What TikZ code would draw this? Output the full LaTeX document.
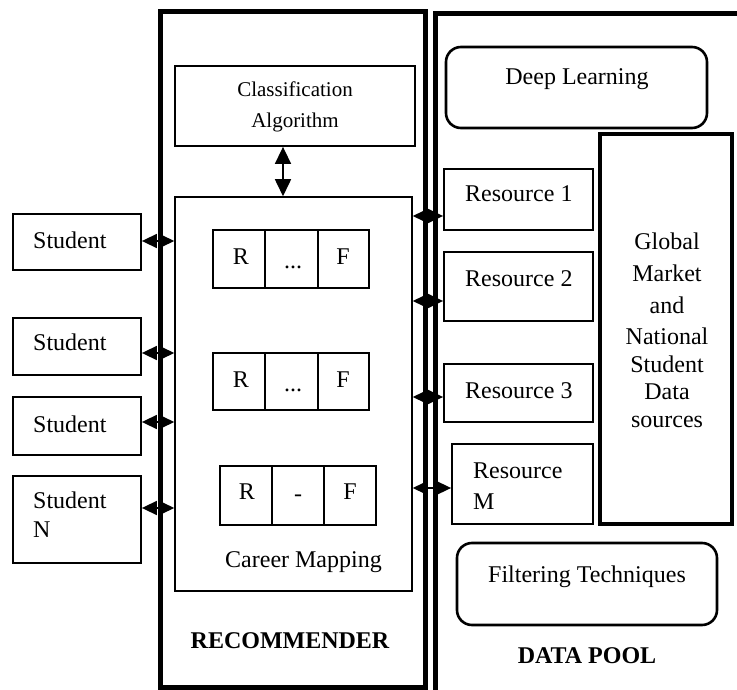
\documentclass[tikz,border=0pt]{standalone}
\usepackage{fontspec}
\setmainfont{Liberation Serif}
\usetikzlibrary{arrows.meta,fit}
\begin{document}
\begin{tikzpicture}[x=1pt,y=-1pt,
  box/.style={draw, line width=1.8pt, inner sep=0pt},
  thinbox/.style={draw, line width=1.5pt, inner sep=0pt},
  gbox/.style={draw, line width=3.5pt, inner sep=0pt},
  rbox/.style={draw, line width=2.6pt, rounded corners=15pt, inner sep=0pt},
  frame/.style={line width=5pt},
  txt/.style={inner sep=0pt, font=\fontsize{24}{28}\selectfont},
  stxt/.style={inner sep=0pt, font=\fontsize{21}{25}\selectfont},
  btxt/.style={inner sep=0pt, font=\fontsize{24}{28}\selectfont\bfseries},
  dbl/.style={{Triangle[length=15pt,width=14pt]}-{Triangle[length=15pt,width=14pt]}, line width=1.6pt},
]
\useasboundingbox (0,0) rectangle (737,690);

% frames
\draw[frame] (160.5,11.5) rectangle (425.5,687.5);
\draw[frame] (435.5,690) -- (435.5,13.5) -- (737,13.5);

% recommender side
\node[box, fit={(175,66) (415,146)}] (cls) {};
\node[stxt, anchor=base] (clsA) at (295,97) {Classification};
\node[stxt, anchor=base] (clsB) at (295,128) {Algorithm};

\node[thinbox, fit={(175,197) (412,591)}] (cm) {};

% R ... F rows
\node[box, fit={(213,230) (265,288)}] (a1) {};
\node[box, fit={(265,230) (318,288)}] (a2) {};
\node[box, fit={(318,230) (369,288)}] (a3) {};
\node[txt, anchor=base] (ta1) at (241,265) {R};
\node[txt, anchor=base] (ta2) at (293,269) {...};
\node[txt, anchor=base] (ta3) at (343,265) {F};

\node[box, fit={(213,353) (265,410)}] (b1) {};
\node[box, fit={(265,353) (318,410)}] (b2) {};
\node[box, fit={(318,353) (369,410)}] (b3) {};
\node[txt, anchor=base] (tb1) at (241,387) {R};
\node[txt, anchor=base] (tb2) at (293,391) {...};
\node[txt, anchor=base] (tb3) at (343,387) {F};

\node[box, fit={(220,466) (272,525)}] (c1) {};
\node[box, fit={(272,466) (324,525)}] (c2) {};
\node[box, fit={(324,466) (376,525)}] (c3) {};
\node[txt, anchor=base] (tc1) at (247,499) {R};
\node[txt, anchor=base] (tc2) at (298,501) {-};
\node[txt, anchor=base] (tc3) at (350,499) {F};

\node[txt, anchor=base] (cmt) at (303.5,567) {Career Mapping};
\node[btxt, anchor=base] (rec) at (290,648) {RECOMMENDER};

% students
\node[box, fit={(13,214) (141,270)}] (s1) {};
\node[box, fit={(13,318) (141,375)}] (s2) {};
\node[box, fit={(13,397) (141,455)}] (s3) {};
\node[box, fit={(13,476) (141,563)}] (s4) {};
\node[txt, anchor=base west] (ts1) at (33,248) {Student};
\node[txt, anchor=base west] (ts2) at (33,350) {Student};
\node[txt, anchor=base west] (ts3) at (33,432) {Student};
\node[txt, anchor=base west] (ts4) at (33,508) {Student};
\node[txt, anchor=base west] (ts4n) at (33,537) {N};

% data pool side
\node[rbox, fit={(446,47) (707,128)}] (dl) {};
\node[txt, anchor=base] (tdl) at (577,85) {Deep Learning};

\node[box, fit={(444,169) (593,230)}] (r1) {};
\node[box, fit={(444,252) (593,321)}] (r2) {};
\node[box, fit={(444,364) (593,422)}] (r3) {};
\node[box, fit={(452,444) (593,524)}] (rm) {};
\node[txt, anchor=base west] (tr1) at (465,202) {Resource 1};
\node[txt, anchor=base west] (tr2) at (465,286) {Resource 2};
\node[txt, anchor=base west] (tr3) at (465,398) {Resource 3};
\node[txt, anchor=base west] (trm) at (473,478) {Resource};
\node[txt, anchor=base west] (trmm) at (473,509) {M};

\node[gbox, fit={(600,134) (732,524)}] (gl) {};
\node[txt, anchor=base] (g1) at (667,249) {Global};
\node[txt, anchor=base] (g2) at (667,281) {Market};
\node[txt, anchor=base] (g3) at (667,313) {and};
\node[txt, anchor=base] (g4) at (667,344) {National};
\node[txt, anchor=base] (g5) at (667,372) {Student};
\node[txt, anchor=base] (g6) at (667,399) {Data};
\node[txt, anchor=base] (g7) at (667,427) {sources};

\node[rbox, fit={(457,543) (717,625)}] (ft) {};
\node[txt, anchor=base] (tft) at (587,582) {Filtering Techniques};
\node[btxt, anchor=base] (dp) at (587,663) {DATA POOL};

% connectors
\draw[dbl, {Triangle[length=17pt,width=16pt]}-{Triangle[length=17pt,width=16pt]}] (283,0 |- cls.south) -- (283,0 |- cm.north);
\draw[dbl] (s1.east |- 0,241) -- (cm.west |- 0,241);
\draw[dbl] (s2.east |- 0,353) -- (cm.west |- 0,353);
\draw[dbl] (s3.east |- 0,422) -- (cm.west |- 0,422);
\draw[dbl] (s4.east |- 0,508) -- (cm.west |- 0,508);
\draw[dbl] (cm.east |- 0,216) -- (r1.west |- 0,216);
\draw[dbl] (cm.east |- 0,301) -- (r2.west |- 0,301);
\draw[dbl] (cm.east |- 0,397) -- (r3.west |- 0,397);
\draw[dbl] (cm.east |- 0,488) -- (rm.west |- 0,488);
\end{tikzpicture}
\end{document}
